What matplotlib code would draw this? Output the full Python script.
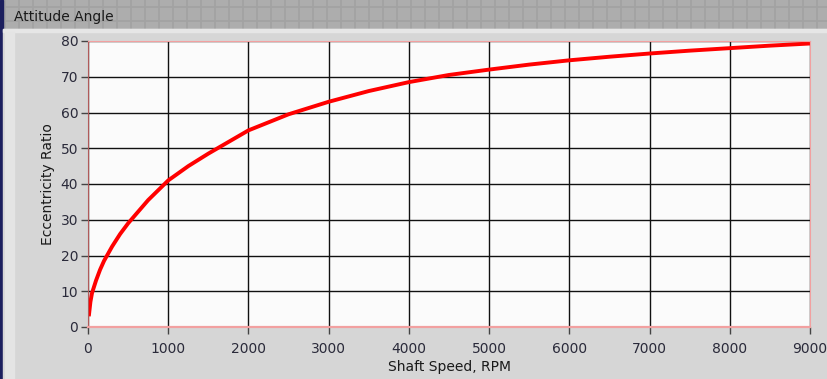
import matplotlib.pyplot as plt
from matplotlib.patches import Rectangle

# data
shaft_speed = [10, 30, 50, 100, 150, 200, 300, 400, 500, 750, 1000, 1250, 1500,
               2000, 2500, 3000, 3500, 4000, 4500, 5000, 5500, 6000, 6500,
               7000, 7500, 8000, 8500, 9000]
eccentricity = [3.0, 7.0, 9.5, 13.0, 16.0, 18.5, 22.5, 26.0, 29.0, 35.5, 41.0,
                45.0, 48.5, 55.0, 59.5, 63.0, 66.0, 68.5, 70.5, 72.0, 73.4,
                74.6, 75.6, 76.5, 77.3, 78.0, 78.7, 79.3]
x_ticks = [0, 1000, 2000, 3000, 4000, 5000, 6000, 7000, 8000, 9000]
y_ticks = [0, 10, 20, 30, 40, 50, 60, 70, 80]

W, H = 827, 379
fig = plt.figure(figsize=(W / 100, H / 100), dpi=100)
fig.patch.set_facecolor('#adadad')

# background panel drawn in pixel coordinates
bg = fig.add_axes([0, 0, 1, 1], zorder=0)
bg.set_xlim(0, W)
bg.set_ylim(H, 0)
bg.axis('off')
for gx in range(5, W, 14):
    bg.plot([gx, gx], [0, 29], color='#a2a2a2', lw=1.2, zorder=0)
for gy in range(7, 29, 14):
    bg.plot([0, W], [gy, gy], color='#a2a2a2', lw=1.2, zorder=0)
bg.add_patch(Rectangle((0, 0), 3, H, color='#1c1f5e', zorder=1))
bg.add_patch(Rectangle((3, 29), W, H, color='#d6d6d6', zorder=1))
bg.add_patch(Rectangle((3, 29), W, 3, color='#e6e6e6', zorder=2))
bg.add_patch(Rectangle((5, 32), 9, H, color='#e4e4e4', zorder=2))
bg.text(14, 17, 'Attitude Angle', fontsize=10, family='DejaVu Sans',
        color='#1a1a1a', va='center', ha='left', zorder=3)

# plot area: x 88..810, y 41..327 (pixels)
ax = fig.add_axes([88 / W, 1 - 327 / H, (810 - 88) / W, (327 - 41) / H], zorder=1)
ax.set_facecolor('#fbfbfb')
ax.plot(shaft_speed, eccentricity, color='#ff0000', lw=2.8, solid_capstyle='butt', zorder=3)
ax.set_xlim(0, 9000)
ax.set_ylim(0, 80)
ax.set_xticks(x_ticks)
ax.set_yticks(y_ticks)
ax.grid(True, color='#111111', lw=1.0)
ax.tick_params(direction='out', length=5, width=1, color='#444444',
               labelsize=10, labelcolor='#2a2a3a', pad=2)
ax.tick_params(axis='x', pad=6)
for side in ['top', 'right', 'bottom']:
    ax.spines[side].set_color('#f2a0a0')
    ax.spines[side].set_zorder(4)
ax.spines['bottom'].set_linewidth(1.6)
ax.spines['left'].set_color('#b05a5a')
ax.spines['left'].set_zorder(4)
ax.set_xlabel('Shaft Speed, RPM', fontsize=10, color='#1a1a1a', labelpad=3)
ax.set_ylabel('Eccentricity Ratio', fontsize=10, color='#1a1a1a', labelpad=4)

fig.savefig('out.png', dpi=100, facecolor=fig.get_facecolor())
